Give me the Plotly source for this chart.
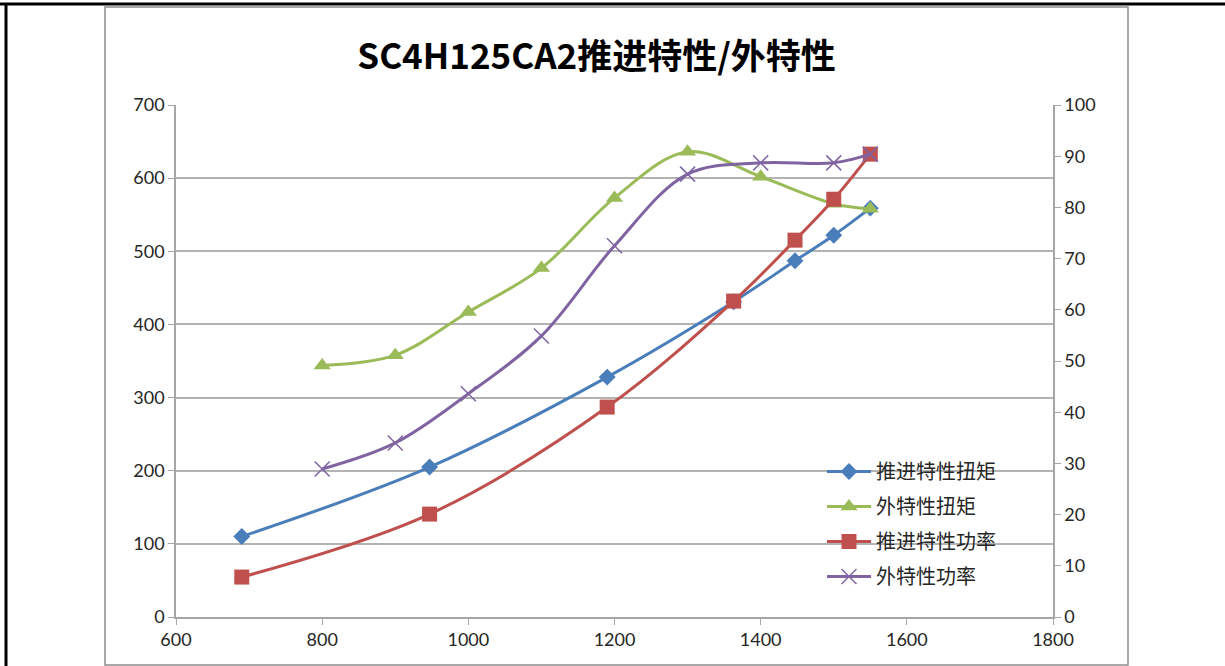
import plotly.graph_objects as go

# Data
speed_prop = [690, 947, 1190, 1363, 1447, 1500, 1550]
torque_prop = [110, 205, 328, 431, 487, 522, 559]
power_prop = [7.8, 20.1, 41.0, 61.7, 73.6, 81.6, 90.4]

speed_ext = [800, 900, 1000, 1100, 1200, 1300, 1400, 1500, 1550]
torque_ext = [344, 358, 417, 477, 573, 636, 602, 565, 558]
power_ext = [28.9, 34.0, 43.6, 54.9, 72.5, 86.5, 88.7, 88.7, 90.4]

names = ["推进特性扭矩", "外特性扭矩", "推进特性功率", "外特性功率"]
title_text = "SC4H125CA2推进特性/外特性"

FONT = "Lato, 'Noto Sans CJK SC', sans-serif"
CJK = "'Noto Sans CJK SC', Lato, sans-serif"

fig = go.Figure()
fig.add_trace(go.Scatter(
    x=speed_prop, y=torque_prop, name=names[0], mode="lines+markers", legendgroup="a",
    line=dict(color="#4A7EBB", width=3, shape="spline"),
    marker=dict(symbol="diamond", size=13, color="#4A7EBB")))
fig.add_trace(go.Scatter(
    x=speed_ext, y=torque_ext, name=names[1], mode="lines+markers", legendgroup="b",
    line=dict(color="#9BBB59", width=3, shape="spline"),
    marker=dict(symbol="triangle-up", size=15, color="#9BBB59")))
fig.add_trace(go.Scatter(
    x=speed_prop, y=power_prop, name=names[2], mode="lines+markers", yaxis="y2", legendgroup="c",
    line=dict(color="#C0504D", width=3, shape="spline"),
    marker=dict(symbol="square", size=15, color="#C0504D")))
fig.add_trace(go.Scatter(
    x=speed_ext, y=power_ext, name=names[3], mode="lines+markers", yaxis="y2", legendgroup="d",
    line=dict(color="#8064A2", width=3, shape="spline"),
    marker=dict(symbol="x-thin", size=15, line=dict(color="#8064A2", width=1.5))))

L, R, T, B = 176, 172, 105, 49
W, H = 1225, 666
pw, ph = W - L - R, H - T - B

def px(xp):
    return (xp - L) / pw

def py(yp):
    return (H - B - yp) / ph

shapes = [
    # outer chart-area border
    dict(type="rect", xref="paper", yref="paper",
         x0=px(105), x1=px(1128), y0=py(665), y1=py(7),
         line=dict(color="#8C8C8C", width=1.5), layer="below"),
    # black frame lines
    dict(type="line", xref="paper", yref="paper",
         x0=px(0), x1=px(1225), y0=py(4), y1=py(4),
         line=dict(color="black", width=3), layer="above"),
    dict(type="line", xref="paper", yref="paper",
         x0=px(6), x1=px(6), y0=py(3), y1=py(666),
         line=dict(color="black", width=3), layer="above"),
]

axis_common = dict(
    showline=True, linecolor="#A6A6A6", linewidth=1.5,
    ticks="outside", ticklen=6, tickcolor="#A6A6A6",
    tickfont=dict(family=FONT, size=18, color="#262626"),
    zeroline=False,
)

fig.update_layout(
    width=W, height=H,
    margin=dict(l=L, r=R, t=T, b=B),
    paper_bgcolor="white", plot_bgcolor="white",
    title=dict(text="<b>" + title_text + "</b>", x=0.487, xanchor="center",
               y=1 - 57 / H, yanchor="middle", yref="container",
               font=dict(family=CJK, size=35, color="black")),
    xaxis=dict(range=[600, 1800], tickvals=[600, 800, 1000, 1200, 1400, 1600, 1800],
               showgrid=False, **axis_common),
    yaxis=dict(range=[0, 700], tickvals=list(range(0, 701, 100)),
               showgrid=True, gridcolor="#B3B3B3", gridwidth=1.5, **axis_common),
    yaxis2=dict(range=[0, 100], tickvals=list(range(0, 101, 10)), overlaying="y",
                side="right", showgrid=False, **axis_common),
    legend=dict(x=px(822), y=py(452), xanchor="left", yanchor="top",
                bgcolor="rgba(0,0,0,0)", tracegroupgap=6, itemwidth=44,
                font=dict(family=CJK, size=20, color="#262626")),
    shapes=shapes,
    showlegend=True,
)

fig.write_html("out.html", config={"displayModeBar": False},
               post_script="document.body.style.margin='0';document.body.style.overflow='hidden';")
